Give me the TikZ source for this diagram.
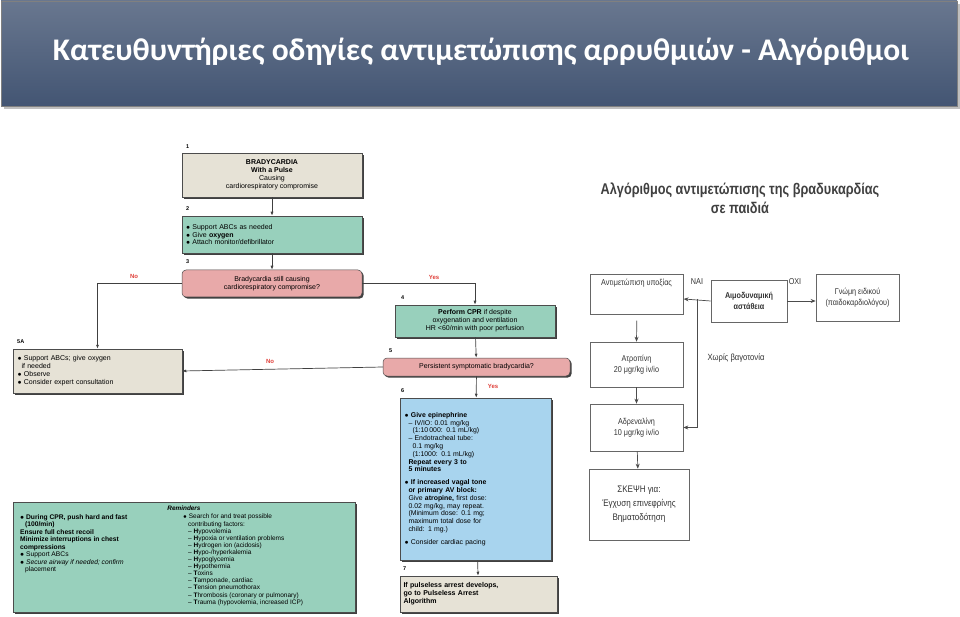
\documentclass[tikz,border=0pt]{standalone}
\usepackage{fontspec}
\setmainfont{Liberation Sans}
\newfontfamily\titlefont{Carlito}
\usetikzlibrary{shadows,arrows.meta}
\definecolor{beige}{HTML}{E6E2D6}
\definecolor{teal}{HTML}{98D0BC}
\definecolor{pinkb}{HTML}{E8A9A9}
\definecolor{blueb}{HTML}{A8D4EE}
\definecolor{titlebg}{HTML}{435573}
\definecolor{noc}{HTML}{E0403A}
\tikzset{
  fc/.style={draw=black!70, line width=0.5pt, drop shadow={shadow xshift=1.6pt, shadow yshift=-1.6pt, fill=black!75, opacity=1}, font=\fontsize{7}{7.9}\selectfont, inner sep=2pt},
  num/.style={font=\fontsize{5.5}{6}\selectfont\bfseries, anchor=west, inner sep=0},
  lab/.style={font=\fontsize{6}{6}\selectfont\bfseries, text=noc, inner sep=0},
  fl/.style={draw=black!75, line width=0.7pt, -{Latex[length=4pt,width=3pt]}},
  gb/.style={draw=black!60, line width=0.6pt, font=\fontsize{8.5}{11}\selectfont\addfontfeature{FakeStretch=0.85}, text=black!80, align=center, inner sep=1pt},
  gl/.style={draw=black!70, line width=0.7pt, -{Stealth[length=5pt,width=4pt]}},
}
\begin{document}
\begin{tikzpicture}[x=1pt,y=-1pt]
\useasboundingbox (0,0) rectangle (960,617);
\fill[white] (0,0) rectangle (960,617);
% title bar
\fill[black!25] (4,4) rectangle (960,109);
\shade[top color=titlebg!80!white, bottom color=titlebg, draw=black!50] (1,1) rectangle (957,106);
\node[text=white, font=\titlefont\bfseries\fontsize{31.5}{36}\selectfont] (title) at (481,52) {Κατευθυντήριες οδηγίες αντιμετώπισης αρρυθμιών - Αλγόριθμοι};

% left flowchart
\node[fc, fill=beige, minimum width=180, minimum height=44, align=center] (b1) at (272,175)
 {\textbf{BRADYCARDIA}\\\textbf{With a Pulse}\\Causing\\cardiorespiratory compromise};
\node[num] (n1) at (186,147) {1};
\node[fc, fill=teal, minimum width=180, minimum height=37, text width=172, align=left] (b2) at (272,234.5)
 {$\bullet$ Support ABCs as needed\\$\bullet$ Give \textbf{oxygen}\\$\bullet$ Attach monitor/defibrillator};
\node[num] (n2) at (186,209) {2};
\node[fc, fill=pinkb, rounded corners=4pt, minimum width=180, minimum height=27, align=center] (b3) at (272,283.5)
 {Bradycardia still causing\\cardiorespiratory compromise?};
\node[num] (n3) at (186,262) {3};
\node[fc, fill=teal, minimum width=160, minimum height=32, align=center] (b4) at (475,321)
 {\textbf{Perform CPR} if despite\\oxygenation and ventilation\\HR <60/min with poor perfusion};
\node[num] (n4) at (401,298) {4};
\node[fc, fill=pinkb, rounded corners=4pt, minimum width=187, minimum height=18, align=center] (b5) at (476.5,367)
 {Persistent symptomatic bradycardia?};
\node[num] (n5) at (389,351) {5};
\node[fc, fill=blueb, minimum width=151, minimum height=162, text width=142, align=left, font=\fontsize{6.9}{7.8}\selectfont] (b6) at (475.5,479)
 {$\bullet$ \textbf{Give epinephrine}\\
 \hspace*{4pt}– IV/IO: 0.01 mg/kg\\
 \hspace*{8pt}(1:10\,000: 0.1 mL/kg)\\
 \hspace*{4pt}– Endotracheal tube:\\
 \hspace*{8pt}0.1 mg/kg\\
 \hspace*{8pt}(1:1000: 0.1 mL/kg)\\
 \hspace*{4pt}\textbf{Repeat every 3 to}\\
 \hspace*{4pt}\textbf{5 minutes}\\[5pt]
 $\bullet$ \textbf{If increased vagal tone}\\
 \hspace*{4pt}\textbf{or primary AV block:}\\
 \hspace*{4pt}Give \textbf{atropine,} first dose:\\
 \hspace*{4pt}0.02 mg/kg, may repeat.\\
 \hspace*{4pt}(Minimum dose: 0.1 mg;\\
 \hspace*{4pt}maximum total dose for\\
 \hspace*{4pt}child: 1 mg.)\\[5pt]
 $\bullet$ Consider cardiac pacing};
\node[num] (n6) at (401,391) {6};
\node[fc, fill=beige, minimum width=157, minimum height=36, text width=150, align=left, font=\fontsize{7}{7.9}\selectfont\bfseries] (b7) at (478.5,594)
 {If pulseless arrest develops,\\go to Pulseless Arrest\\Algorithm};
\node[num] (n7) at (403,569) {7};
\node[fc, fill=beige, minimum width=169, minimum height=44, text width=160, align=left] (b5a) at (97.5,371)
 {$\bullet$ Support ABCs; give oxygen\\\hspace*{4pt}if needed\\$\bullet$ Observe\\$\bullet$ Consider expert consultation};
\node[num] (n5a) at (17,342) {5A};
% reminders
\node[fc, fill=teal, minimum width=342, minimum height=110, inner sep=0] (rem) at (184,557) {};
\node[font=\fontsize{6.4}{7}\selectfont\bfseries\itshape] (remt) at (184,508) {Reminders};
\node[anchor=north west, align=left, font=\fontsize{6.7}{7.5}\selectfont, inner sep=0] (reml) at (20,514)
 {$\bullet$ \textbf{During CPR, push hard and fast}\\
 \hspace*{5pt}\textbf{(100/min)}\\
 \textbf{Ensure full chest recoil}\\
 \textbf{Minimize interruptions in chest}\\
 \textbf{compressions}\\
 $\bullet$ Support ABCs\\
 $\bullet$ \textit{Secure airway if needed; confirm}\\
 \hspace*{5pt}placement};
\node[anchor=north west, align=left, font=\fontsize{6.5}{7.1}\selectfont, inner sep=0] (remr) at (183,514)
 {$\bullet$ Search for and treat possible\\
 \hspace*{5pt}contributing factors:\\
 \hspace*{5pt}– \textbf{H}ypovolemia\\
 \hspace*{5pt}– \textbf{H}ypoxia or ventilation problems\\
 \hspace*{5pt}– \textbf{H}ydrogen ion (acidosis)\\
 \hspace*{5pt}– \textbf{H}ypo-/hyperkalemia\\
 \hspace*{5pt}– \textbf{H}ypoglycemia\\
 \hspace*{5pt}– \textbf{H}ypothermia\\
 \hspace*{5pt}– \textbf{T}oxins\\
 \hspace*{5pt}– \textbf{T}amponade, cardiac\\
 \hspace*{5pt}– \textbf{T}ension pneumothorax\\
 \hspace*{5pt}– \textbf{T}hrombosis (coronary or pulmonary)\\
 \hspace*{5pt}– \textbf{T}rauma (hypovolemia, increased ICP)};
% connectors
\draw[fl] (b1) -- (b2);
\draw[fl] (b2) -- (b3);
\draw[fl] (b3.east) -| (b4.north);
\draw[fl] (b3.west) -| (b5a.north);
\draw[fl] (b4) -- (b5);
\draw[fl] (b5.west) -- (b5a.east);
\draw[fl] (b5) -- (b6);
\draw[fl] (b6) -- (b7);
\node[lab] (yes1) at (434,277) {Yes};
\node[lab] (no1) at (134,276) {No};
\node[lab] (no2) at (270,361) {No};
\node[lab] (yes2) at (493,386) {Yes};

% right Greek diagram
\node[font=\fontsize{15.5}{19}\selectfont\bfseries\addfontfeature{FakeStretch=0.82}, text=black!75, align=center] (gt) at (740,198)
 {Αλγόριθμος αντιμετώπισης της βραδυκαρδίας\\σε παιδιά};
\node[gb, minimum width=93, minimum height=40, anchor=north west] (ga) at (590,274) {};
\node[font=\fontsize{8.5}{11}\selectfont\addfontfeature{FakeStretch=0.85}, text=black!80, anchor=north, inner sep=0] (gat) at (636.5,279) {Αντιμετώπιση υποξίας};
\node[gb, minimum width=76, minimum height=42, font=\fontsize{8.5}{11}\selectfont\bfseries\addfontfeature{FakeStretch=0.85}] (gbx) at (749,301) {Αιμοδυναμική\\αστάθεια};
\node[gb, minimum width=83, minimum height=47] (gc) at (857.5,297.5) {Γνώμη ειδικού\\(παιδοκαρδιολόγου)};
\node[gb, minimum width=93, minimum height=45] (gd) at (636.5,364.5) {Ατροπίνη\\20 μgr/kg  iv/io};
\node[gb, minimum width=93, minimum height=47] (ge) at (636.5,427.5) {Αδρεναλίνη\\10 μgr/kg  iv/io};
\node[gb, minimum width=100, minimum height=71, font=\fontsize{9.5}{14}\selectfont\addfontfeature{FakeStretch=0.85}] (gf) at (639,504.5) {ΣΚΕΨΗ για:\\Έγχυση επινεφρίνης\\Βηματοδότηση};
\coordinate (gj) at (697,299);
\draw[gl] (gbx.west) -- (ga.east |- gj);
\draw[gl] (gj) |- (ge.east);
\draw[gl] (gbx.east) -- (gc.west |- gbx.east);
\draw[gl] (ga.south) ++(0,6) -- (gd.north);
\draw[gl] (gd) -- (ge);
\draw[gl] (ge) -- (gf);
\node[font=\fontsize{8.5}{10}\selectfont\addfontfeature{FakeStretch=0.85}, text=black!80] (nai) at (697,282) {ΝΑΙ};
\node[font=\fontsize{8.5}{10}\selectfont\addfontfeature{FakeStretch=0.85}, text=black!80] (oxi) at (795,282) {ΟΧΙ};
\node[font=\fontsize{9}{10}\selectfont\addfontfeature{FakeStretch=0.85}, text=black!80] (vag) at (736,358) {Χωρίς βαγοτονία};
\end{tikzpicture}
\end{document}
